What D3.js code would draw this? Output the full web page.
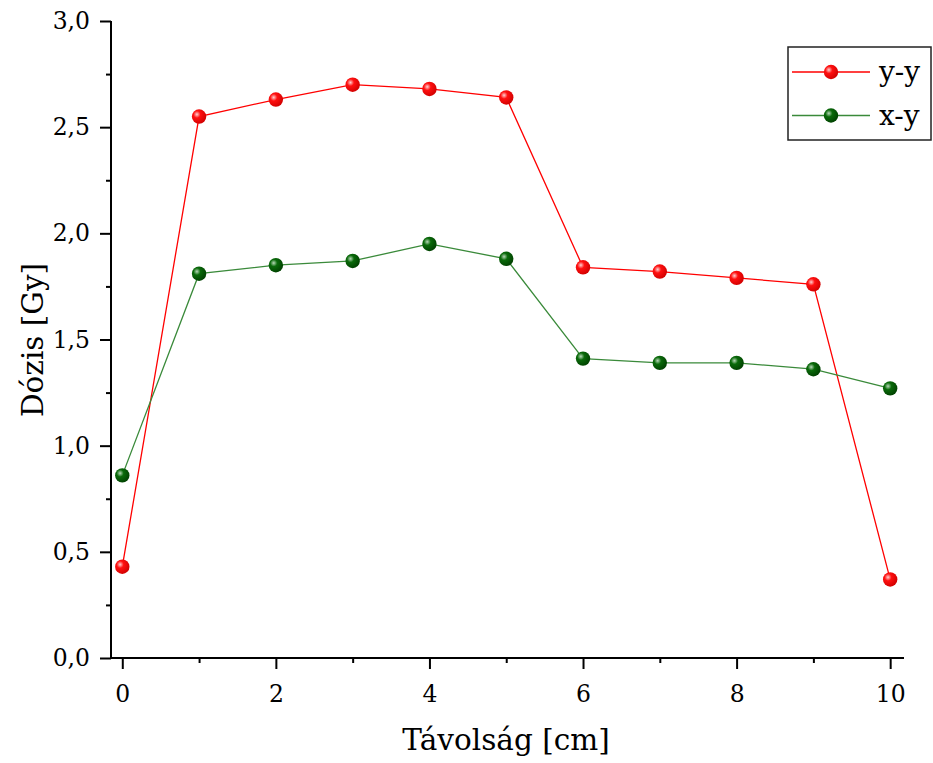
<!DOCTYPE html>
<html>
<head>
<meta charset="utf-8">
<script src="https://cdn.jsdelivr.net/npm/d3@7"></script>
<style>
  body { margin: 0; background: #fff; }
  svg text { font-family: "DejaVu Serif", serif; fill: #000; }
</style>
</head>
<body>
<svg id="chart" width="933" height="763"></svg>
<script>
const distances = [0, 1, 2, 3, 4, 5, 6, 7, 8, 9, 10];
const seriesNames = ["y-y", "x-y"];
const yyValues = [0.43, 2.55, 2.63, 2.70, 2.68, 2.64, 1.84, 1.82, 1.79, 1.76, 0.37];
const xyValues = [0.86, 1.81, 1.85, 1.87, 1.95, 1.88, 1.41, 1.39, 1.39, 1.36, 1.27];
const xTickValues = [0, 2, 4, 6, 8, 10];
const yTickValues = [0, 0.5, 1.0, 1.5, 2.0, 2.5, 3.0];
const xTitle = "Távolság [cm]";
const yTitle = "Dózis [Gy]";

(function () {
const svg = d3.select("#chart");
const mLeft = 111, mRight = 904, mTop = 21, mBottom = 658;

const x = d3.scaleLinear().domain([-0.147, 10.18]).range([mLeft, mRight]);
const y = d3.scaleLinear().domain([0, 3.0]).range([mBottom, mTop]);

const defs = svg.append("defs");
function grad(id, light, base, dark) {
  const g = defs.append("radialGradient").attr("id", id)
    .attr("cx", "35%").attr("cy", "35%").attr("r", "70%");
  g.append("stop").attr("offset", "0%").attr("stop-color", light);
  g.append("stop").attr("offset", "35%").attr("stop-color", base);
  g.append("stop").attr("offset", "100%").attr("stop-color", dark);
}
grad("gRed", "#ffd0d0", "#ff1010", "#d00000");
grad("gGreen", "#b8d8b8", "#0a6a0a", "#004000");

const series = [
  { name: seriesNames[0], values: yyValues, line: "#ff0000", fill: "url(#gRed)" },
  { name: seriesNames[1], values: xyValues, line: "#3a8a3a", fill: "url(#gGreen)" }
];

const fmt = d => d3.format(".1f")(d).replace(".", ",");
const yAxis = d3.axisLeft(y).tickValues(yTickValues).tickFormat(fmt).tickSize(11).tickPadding(10);
const yMinor = d3.axisLeft(y).tickValues(d3.range(0.25, 3.0, 0.5)).tickFormat("").tickSize(5);
const xAxis = d3.axisBottom(x).tickValues(xTickValues).tickFormat(d3.format("d")).tickSize(11).tickPadding(16);
const xMinor = d3.axisBottom(x).tickValues([1, 3, 5, 7, 9]).tickFormat("").tickSize(5);

function style(g) {
  g.select(".domain").attr("stroke", "#000").attr("stroke-width", 2);
  g.selectAll(".tick line").attr("stroke", "#000").attr("stroke-width", 2);
  g.selectAll(".tick text").attr("font-family", "DejaVu Serif").attr("font-size", 23.5).attr("fill", "#000");
}
svg.append("g").attr("transform", `translate(${mLeft},0)`).call(yMinor).call(style).select(".domain").remove();
svg.append("g").attr("transform", `translate(0,${mBottom})`).call(xMinor).call(style).select(".domain").remove();
svg.append("g").attr("transform", `translate(${mLeft},0)`).call(yAxis).call(style)
  .select(".domain").attr("d", `M0,${mTop}V${mBottom}`);
svg.append("g").attr("transform", `translate(0,${mBottom})`).call(xAxis).call(style)
  .select(".domain").attr("d", `M${mLeft},0H${mRight}`);

svg.append("text").attr("x", 506).attr("y", 750).attr("text-anchor", "middle")
  .attr("font-size", 29.5).text(xTitle);
svg.append("text").attr("transform", "translate(43,340) rotate(-90)").attr("text-anchor", "middle")
  .attr("font-size", 29.5).text(yTitle);

const line = d3.line().x((d, i) => x(distances[i])).y(d => y(d));
series.forEach(s => {
  svg.append("path").datum(s.values).attr("d", line).attr("fill", "none")
    .attr("stroke", s.line).attr("stroke-width", 1.3);
  svg.append("g").selectAll("circle").data(s.values).join("circle")
    .attr("cx", (d, i) => x(distances[i])).attr("cy", d => y(d)).attr("r", 7.2)
    .attr("fill", s.fill);
});

const lg = svg.append("g");
lg.append("rect").attr("x", 788).attr("y", 47).attr("width", 143).attr("height", 93)
  .attr("fill", "#fff").attr("stroke", "#222").attr("stroke-width", 1.5);
series.forEach((s, i) => {
  const ly = 72 + i * 43.5;
  lg.append("line").attr("x1", 792).attr("x2", 870).attr("y1", ly).attr("y2", ly)
    .attr("stroke", s.line).attr("stroke-width", 1.3);
  lg.append("circle").attr("cx", 831).attr("cy", ly).attr("r", 7.2).attr("fill", s.fill);
  lg.append("text").attr("x", 879).attr("y", ly + 9).attr("font-size", 28).text(s.name);
});
})();
</script>
</body>
</html>
